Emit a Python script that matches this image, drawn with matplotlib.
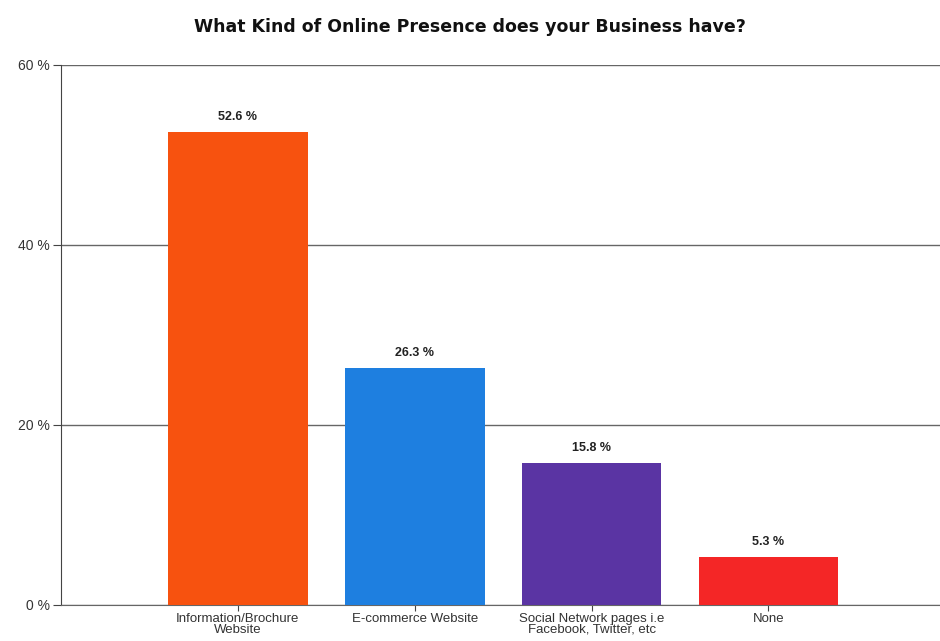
import matplotlib.pyplot as plt
import numpy as np

plt.rcParams['font.family'] = ['Liberation Sans', 'DejaVu Sans']

categories = ['Information/Brochure\nWebsite', 'E-commerce Website',
              'Social Network pages i.e\nFacebook, Twitter, etc', 'None']
values = [52.6, 26.3, 15.8, 5.3]
colors = ['#F7520F', '#1E7FE0', '#5A34A3', '#F42626']
yticks = [0, 20, 40, 60]

fig = plt.figure(figsize=(9.4, 6.41), dpi=100)
ax = fig.add_axes([61 / 940, 1 - 605 / 641, 1 - 61 / 940, (605 - 65) / 641])

x = np.arange(len(values))
bars = ax.bar(x, values, width=0.79, color=colors, zorder=3)
for b, v in zip(bars, values):
    ax.text(b.get_x() + b.get_width() / 2, v + 1.0, f'{v} %',
            ha='center', va='bottom', fontsize=9, fontweight='bold', color='#222222')

ax.set_xlim(-1.0, 3.97)
ax.set_ylim(0, 60)
ax.set_yticks(yticks)
ax.set_yticklabels([f'{t} %' for t in yticks], fontsize=10, color='#333333')
ax.set_xticks(x)
ax.set_xticklabels(categories, fontsize=9.5, color='#333333', linespacing=0.85)
ax.yaxis.grid(True, color='#666666', linewidth=1.0, zorder=0)

for s in ['top', 'right']:
    ax.spines[s].set_visible(False)
ax.spines['left'].set_color('#444444')
ax.spines['bottom'].set_color('#666666')
ax.tick_params(axis='y', length=6, color='#444444', pad=2)
ax.tick_params(axis='x', length=4, color='#444444', pad=2)

fig.text(0.5, 1 - 27 / 641, 'What Kind of Online Presence does your Business have?',
         ha='center', va='center', fontsize=12.5, fontweight='bold',
         family='DejaVu Sans', color='#111111')

fig.savefig('out.png', dpi=100)
